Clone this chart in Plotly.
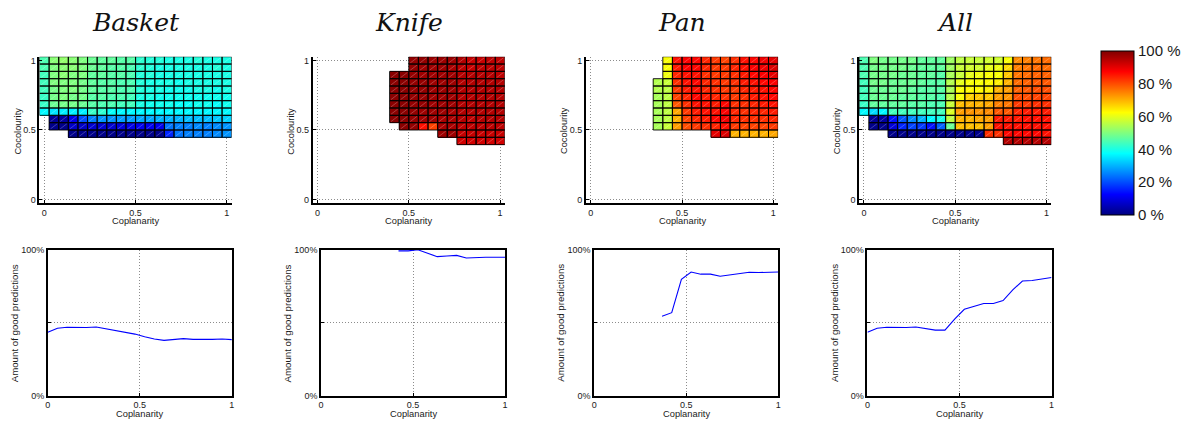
import plotly.graph_objects as go

W, H = 1196, 426
STEP = 1 / 19
coplanarity = [j * STEP for j in range(20)]
cocolourity = [i * STEP for i in range(20)]

objects = ["Basket", "Knife", "Pan", "All"]
_ = None

# success rate (%) per cell; rows listed from cocolourity = 1 downwards
basket_rows = [
    [45, 51, 52, 51, 50, 48, 47, 47, 46, 46, 42, 41, 41, 40, 40, 40, 41, 40, 40, 40],
    [45, 50, 51, 51, 50, 48, 47, 46, 46, 45, 42, 41, 40, 40, 40, 40, 40, 40, 41, 40],
    [44, 50, 51, 50, 50, 47, 47, 46, 46, 45, 41, 41, 40, 40, 40, 40, 40, 40, 40, 40],
    [44, 50, 50, 50, 49, 47, 46, 46, 45, 45, 41, 40, 40, 40, 39, 40, 40, 40, 40, 40],
    [44, 49, 50, 50, 49, 47, 46, 46, 45, 45, 41, 40, 40, 39, 39, 39, 40, 40, 39, 40],
    [43, 49, 50, 49, 49, 46, 46, 45, 45, 44, 40, 40, 39, 39, 39, 39, 39, 39, 39, 39],
    [43, 48, 49, 49, 48, 46, 45, 45, 44, 44, 40, 39, 39, 39, 38, 38, 39, 39, 38, 39],
    [37, 35, 36, 36, 36, 43, 42, 38, 37, 37, 37, 37, 37, 37, 37, 37, 37, 37, 37, 37],
    [_, 2, 3, 10, 20, 25, 27, 27, 28, 28, 29, 29, 30, 30, 30, 31, 31, 31, 32, 33],
    [_, 1, 1, 7, 7, 8, 8, 8, 9, 10, 11, 11, 11, 24, 25, 25, 26, 25, 26, 27],
    [_, _, _, 1, 1, 1, 1, 1, 1, 1, 1, 1, 1, 16, 24, 25, 25, 25, 26, 27],
]

knife_rows = [
    [_, _, _, _, _, _, _, _, _, _, 98, 98, 97, 97, 97, 95, 93, 93, 94, 94],
    [_, _, _, _, _, _, _, _, _, _, 98, 97, 97, 97, 96, 94, 93, 94, 94, 94],
    [_, _, _, _, _, _, _, _, 99, 99, 98, 97, 97, 97, 97, 95, 95, 95, 95, 94],
    [_, _, _, _, _, _, _, _, 99, 99, 98, 98, 97, 97, 97, 95, 95, 95, 95, 95],
    [_, _, _, _, _, _, _, _, 99, 99, 98, 98, 97, 97, 97, 95, 95, 95, 95, 95],
    [_, _, _, _, _, _, _, _, 99, 99, 98, 98, 97, 97, 97, 95, 95, 95, 95, 95],
    [_, _, _, _, _, _, _, _, 99, 99, 98, 98, 97, 97, 97, 95, 95, 95, 95, 95],
    [_, _, _, _, _, _, _, _, 99, 99, 98, 97, 97, 97, 96, 95, 95, 95, 95, 95],
    [_, _, _, _, _, _, _, _, 99, 99, 98, 97, 97, 96, 96, 95, 94, 95, 95, 95],
    [_, _, _, _, _, _, _, _, _, 99, 98, 86, 81, 96, 96, 94, 94, 94, 94, 94],
    [_, _, _, _, _, _, _, _, _, _, _, _, _, 97, 97, 93, 93, 93, 93, 93],
    [_, _, _, _, _, _, _, _, _, _, _, _, _, _, _, 92, 92, 92, 92, 92],
]

pan_rows = [
    [_, _, _, _, _, _, _, _, 62, 86, 88, 87, 84, 82, 81, 83, 86, 87, 89, 90],
    [_, _, _, _, _, _, _, _, 62, 85, 88, 87, 84, 82, 82, 84, 86, 88, 89, 91],
    [_, _, _, _, _, _, _, _, 61, 84, 86, 86, 83, 82, 82, 83, 85, 87, 88, 90],
    [_, _, _, _, _, _, _, 55, 57, 83, 86, 87, 84, 83, 82, 83, 85, 86, 87, 88],
    [_, _, _, _, _, _, _, 55, 56, 82, 85, 86, 84, 83, 82, 82, 84, 85, 86, 87],
    [_, _, _, _, _, _, _, 54, 56, 81, 84, 87, 85, 84, 83, 82, 83, 85, 86, 87],
    [_, _, _, _, _, _, _, 54, 56, 79, 83, 86, 86, 85, 87, 83, 83, 84, 85, 86],
    [_, _, _, _, _, _, _, 54, 56, 71, 82, 85, 86, 86, 88, 84, 83, 84, 84, 85],
    [_, _, _, _, _, _, _, 54, 56, 70, 81, 84, 85, 87, 89, 84, 83, 83, 83, 84],
    [_, _, _, _, _, _, _, 54, 57, 72, 80, 82, 83, 84, 86, 82, 81, 81, 81, 82],
    [_, _, _, _, _, _, _, _, _, _, _, _, _, 90, 91, 70, 70, 70, 70, 71],
]

all_rows = [
    [45, 50, 49, 49, 49, 49, 47, 47, 47, 53, 56, 57, 57, 58, 58, 62, 74, 75, 76, 77],
    [45, 49, 49, 49, 49, 48, 47, 47, 47, 53, 57, 58, 58, 60, 61, 66, 75, 76, 77, 77],
    [45, 49, 49, 49, 48, 48, 47, 47, 46, 54, 57, 60, 61, 62, 62, 68, 76, 77, 78, 78],
    [44, 49, 49, 48, 48, 48, 47, 46, 46, 55, 60, 62, 62, 63, 64, 70, 77, 78, 79, 79],
    [44, 48, 48, 48, 48, 47, 46, 46, 46, 54, 62, 63, 63, 64, 70, 72, 78, 79, 80, 80],
    [44, 48, 48, 48, 47, 47, 46, 46, 45, 55, 62, 67, 68, 68, 72, 73, 80, 80, 81, 81],
    [43, 47, 47, 47, 47, 46, 46, 45, 45, 57, 69, 70, 70, 71, 75, 76, 82, 82, 83, 83],
    [37, 34, 37, 44, 44, 44, 44, 44, 44, 59, 72, 73, 73, 74, 79, 79, 84, 85, 85, 85],
    [_, 2, 3, 14, 21, 26, 30, 37, 40, 56, 70, 70, 71, 72, 85, 85, 85, 86, 86, 86],
    [_, 1, 1, 9, 16, 19, 18, 14, 22, 48, 69, 69, 69, 72, 86, 86, 86, 86, 86, 86],
    [_, _, _, 1, 1, 1, 1, 1, 1, 1, 1, 1, 1, 83, 83, 87, 87, 87, 87, 86],
    [_, _, _, _, _, _, _, _, _, _, _, _, _, _, _, 95, 95, 95, 95, 95],
]

# amount of good predictions (%) along coplanarity
basket_curve = [43.5, 46.2, 46.9, 46.7, 46.7, 47.1, 46.0, 44.4, 43.8, 42.2,
                40.4, 38.8, 37.9, 38.4, 39.1, 38.6, 38.4, 38.6, 38.8, 38.4]
knife_curve = [_, _, _, _, _, _, _, _, 99.3, 99.3,
               100.0, 97.5, 95.3, 95.8, 96.2, 94.4, 94.9, 94.9, 94.9, 94.9]
pan_curve = [_, _, _, _, _, _, _, 54.5, 56.9, 79.7,
             84.8, 83.3, 83.3, 81.9, 82.8, 83.7, 84.6, 84.4, 84.6, 84.8]
all_curve = [43.5, 46.2, 46.9, 46.7, 46.7, 47.1, 46.2, 44.9, 44.9, 52.5,
             59.2, 61.4, 63.2, 63.2, 65.2, 72.5, 78.6, 79.0, 79.9, 81.0]

grids = [basket_rows, knife_rows, pan_rows, all_rows]
curves = [basket_curve, knife_curve, pan_curve, all_curve]

percent_ticks = [0, 20, 40, 60, 80, 100]
percent_labels = [f"{v} %" for v in percent_ticks]

jet = [
    [0.0, "rgb(0,0,128)"],
    [0.125, "rgb(0,0,255)"],
    [0.375, "rgb(0,255,255)"],
    [0.625, "rgb(255,255,0)"],
    [0.875, "rgb(255,0,0)"],
    [1.0, "rgb(128,0,0)"],
]

FONT = "Liberation Sans"
TXT = "#1a1a1a"
TICK_FONT = dict(family=FONT, size=9, color=TXT)
GRID = dict(showgrid=True, gridcolor="#8c8c8c", griddash="1px,2px", gridwidth=1)

# panel geometry in pixels
PITCH = 274.6
TOP_X0, TOP_UNIT = 41.5, 183.5
TOP_Y1, TOP_Y0 = 56.7, 199.3      # pixel rows of cocolourity 1 and 0
BOT_X0, BOT_X1 = 45.0, 230.0
BOT_TOP, BOT_BOTTOM = 250.7, 400.0

half = STEP / 2
lo, hi = -half, 1 + half


def to_z(rows):
    z = []
    for i in range(20):
        r = 19 - i
        z.append(rows[r] if r < len(rows) else [None] * 20)
    return z


def px_label(text, x, y, angle=0, size=9.3):
    return dict(
        text=text, xref="paper", yref="paper", x=x / W, y=1 - y / H,
        xanchor="center", yanchor="middle", showarrow=False, textangle=angle,
        font=dict(family=FONT, size=size, color=TXT),
    )


fig = go.Figure()
layout = {}
annotations = []

for k, (name, rows, curve) in enumerate(zip(objects, grids, curves)):
    z = to_z(rows)
    ta = k + 1
    ba = k + 5
    xs_t, ys_t = ("x" if ta == 1 else f"x{ta}"), ("y" if ta == 1 else f"y{ta}")
    xs_b, ys_b = f"x{ba}", f"y{ba}"

    fig.add_trace(go.Heatmap(
        x=coplanarity, y=cocolourity, z=z, coloraxis="coloraxis",
        xaxis=xs_t, yaxis=ys_t, hoverongaps=False,
    ))

    # cell edges and the diagonal seam of each rendered quad
    ex, ey, dx, dy = [], [], [], []
    for i in range(20):
        for j in range(20):
            if z[i][j] is None:
                continue
            cx, cy = coplanarity[j], cocolourity[i]
            x0, x1, y0, y1 = cx - half, cx + half, cy - half, cy + half
            ex += [x0, x1, x1, x0, x0, None]
            ey += [y0, y0, y1, y1, y0, None]
            dx += [x0 + 0.15 * STEP, x1 - 0.15 * STEP, None]
            dy += [y0 + 0.15 * STEP, y1 - 0.15 * STEP, None]
    fig.add_trace(go.Scatter(
        x=dx, y=dy, mode="lines", xaxis=xs_t, yaxis=ys_t,
        line=dict(color="rgba(255,255,255,0.35)", width=0.7),
        hoverinfo="skip", showlegend=False,
    ))
    fig.add_trace(go.Scatter(
        x=ex, y=ey, mode="lines", xaxis=xs_t, yaxis=ys_t,
        line=dict(color="rgba(0,0,0,0.9)", width=1),
        hoverinfo="skip", showlegend=False,
    ))

    cx_pts = [c for c, v in zip(coplanarity, curve) if v is not None]
    cy_pts = [v for v in curve if v is not None]
    fig.add_trace(go.Scatter(
        x=cx_pts, y=cy_pts, mode="lines", xaxis=xs_b, yaxis=ys_b,
        line=dict(color="rgb(0,0,255)", width=1.1),
        hoverinfo="skip", showlegend=False,
    ))

    # top panel axes
    left = TOP_X0 + PITCH * k + lo * TOP_UNIT
    right = TOP_X0 + PITCH * k + hi * TOP_UNIT
    unit_y = TOP_Y0 - TOP_Y1
    top = TOP_Y1 - half * unit_y
    bottom = TOP_Y0 + half * unit_y
    common = dict(
        GRID, tickvals=[0, 0.5, 1], ticktext=["0", "0.5", "1"],
        zeroline=False, showline=True, linecolor="black", linewidth=1.6,
        ticks="inside", ticklen=3, tickcolor="black", tickfont=TICK_FONT,
    )
    layout[f"xaxis{'' if ta == 1 else ta}"] = dict(
        common, domain=[left / W, right / W], range=[lo, hi], anchor=ys_t,
    )
    layout[f"yaxis{'' if ta == 1 else ta}"] = dict(
        common, domain=[1 - bottom / H, 1 - top / H], range=[lo, hi], anchor=xs_t,
    )
    mid_top = TOP_X0 + PITCH * k + 0.5 * TOP_UNIT
    annotations.append(px_label("Coplanarity", mid_top, 221.5))
    annotations.append(px_label("Cocolourity", 14.7 + PITCH * k, 129.0, angle=-90))

    # bottom panel axes
    bl = BOT_X0 + PITCH * k
    br = BOT_X1 + PITCH * k
    bcommon = dict(
        GRID, zeroline=False, showline=True, mirror=True, linecolor="black", linewidth=1.6,
        ticks="inside", ticklen=3, tickcolor="black", tickfont=TICK_FONT,
    )
    layout[f"xaxis{ba}"] = dict(
        bcommon, domain=[bl / W, br / W], range=[0, 1], anchor=ys_b,
        tickvals=[0, 0.5, 1], ticktext=["0", "0.5", "1"],
    )
    layout[f"yaxis{ba}"] = dict(
        bcommon, domain=[1 - BOT_BOTTOM / H, 1 - BOT_TOP / H], range=[0, 100], anchor=xs_b,
        tickvals=[0, 50, 100], ticktext=["0%", "", "100%"],
    )
    annotations.append(px_label("Coplanarity", (bl + br) / 2, 418.5))
    annotations.append(px_label("Amount of good predictions", 11.2 + PITCH * k, 325.8,
                                angle=-90, size=9.7))

    annotations.append(dict(
        text=f"<i>{name}</i>", xref="paper", yref="paper",
        x=mid_top / W, y=1 - 18 / H,
        xanchor="center", yanchor="middle", showarrow=False,
        font=dict(family="DejaVu Serif", size=25, color="#111111"),
    ))

cb_top, cb_bottom = 47.0, 215.0
fig.update_layout(
    width=W, height=H, margin=dict(l=0, r=0, t=0, b=0),
    paper_bgcolor="white", plot_bgcolor="white",
    showlegend=False, annotations=annotations,
    coloraxis=dict(
        colorscale=jet, cmin=0, cmax=100,
        colorbar=dict(
            x=1104 / W, xanchor="left", xpad=0, ypad=0,
            y=1 - (cb_top + cb_bottom) / 2 / H, yanchor="middle",
            len=(cb_bottom - cb_top) / H, lenmode="fraction",
            thickness=33, thicknessmode="pixels",
            outlinecolor="black", outlinewidth=1,
            tickvals=percent_ticks, ticktext=percent_labels,
            ticks="", tickfont=dict(family=FONT, size=15, color=TXT),
        ),
    ),
    **layout,
)

fig.write_html("out.html")
